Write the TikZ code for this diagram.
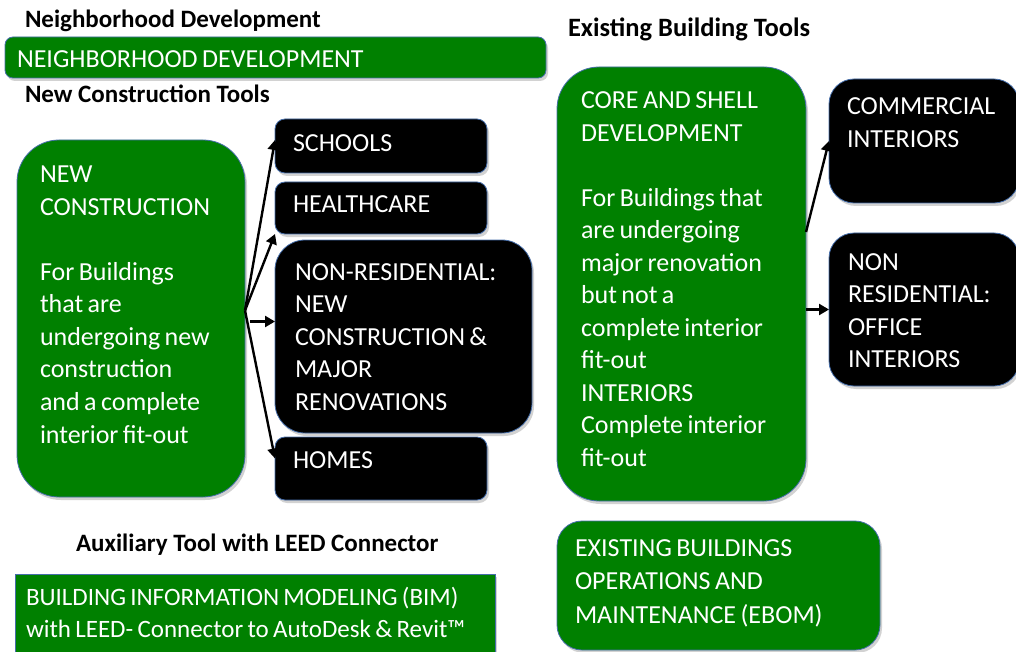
\documentclass[tikz,border=0pt]{standalone}
\usepackage{fontspec}
\setmainfont{Carlito}
\usetikzlibrary{shadows,arrows.meta}
\definecolor{leedgreen}{RGB}{0,128,0}
\definecolor{edgeblue}{RGB}{70,110,170}

\begin{document}
\begin{tikzpicture}
  [x=1pt, y=-1pt,
   every node/.style={inner sep=0pt, outer sep=0pt},
   box/.style={draw=edgeblue, line width=0.8pt, anchor=north west,
     drop shadow={shadow xshift=2pt, shadow yshift=-3pt, fill=black!25, opacity=0.7}},
   gbox/.style={box, fill=leedgreen},
   bbox/.style={box, fill=black},
   txt/.style={text=white, align=left, text width=230pt, anchor=base west,
     font=\fontsize{26}{32.5}\selectfont, execute at begin node={\spaceskip=0.17em\relax}},
   hdr/.style={anchor=base west, font=\fontsize{25}{30}\selectfont\bfseries},
   arr/.style={-{Triangle[length=10pt,width=11pt]}, line width=2.4pt}]
  \useasboundingbox (0,0) rectangle (1016,652);

  % headings
  \node[hdr] (ndhead) at (25,28) {Neighborhood Development};
  \node[hdr] (nchead) at (25,103) {New Construction Tools};
  \node[hdr, font=\fontsize{26.5}{30}\selectfont\bfseries] (ebhead) at (568,37) {Existing Building Tools};
  \node[hdr] (auxhead) at (76,551) {Auxiliary Tool with LEED Connector};

  % boxes
  \node[gbox, rounded corners=8, minimum width=541, minimum height=41] (ndbar) at (5,37) {};
  \node[gbox, rounded corners=42, minimum width=228, minimum height=357] (nc) at (17,140) {};
  \node[bbox, rounded corners=10, minimum width=212, minimum height=54] (schools) at (275,119) {};
  \node[bbox, rounded corners=10, minimum width=212, minimum height=52] (health) at (275,182) {};
  \node[bbox, rounded corners=30, minimum width=257, minimum height=193] (nonres) at (275,240) {};
  \node[bbox, rounded corners=10, minimum width=212, minimum height=63] (homes) at (275,437) {};
  \node[gbox, rounded corners=42, minimum width=249, minimum height=434] (core) at (557,67) {};
  \node[bbox, rounded corners=25, minimum width=190, minimum height=124] (comm) at (829,79) {};
  \node[bbox, rounded corners=25, minimum width=190, minimum height=153] (office) at (829,233) {};
  \node[gbox, rounded corners=25, minimum width=323, minimum height=129] (ebom) at (557,521) {};
  \node[gbox, minimum width=480, minimum height=90] (bim) at (15,574) {};

  % texts
  \node[txt, text width=400pt] (ndtxt) at (17,68) {NEIGHBORHOOD DEVELOPMENT};
  \node[txt] (nctxt) at (40,183) {NEW\\CONSTRUCTION\\[32.5pt]For Buildings\\that are\\undergoing new\\construction\\and a complete\\interior fit-out};
  \node[txt] (schoolstxt) at (293,152) {SCHOOLS};
  \node[txt] (healthtxt) at (293,213) {HEALTHCARE};
  \node[txt] (nonrestxt) at (295,280) {NON-RESIDENTIAL:\\NEW\\CONSTRUCTION \&\\MAJOR\\RENOVATIONS};
  \node[txt] (homestxt) at (293,468) {HOMES};
  \node[txt] (coretxt) at (581,109) {CORE AND SHELL\\DEVELOPMENT\\[32.5pt]For Buildings that\\are undergoing\\major renovation\\but not a\\complete interior\\fit-out\\INTERIORS\\Complete interior\\fit-out};
  \node[txt, text width=165pt] (commtxt) at (847,115) {COMMERCIAL\\INTERIORS};
  \node[txt, text width=165pt] (officetxt) at (848,270) {NON\\RESIDENTIAL:\\OFFICE\\INTERIORS};
  \node[txt, text width=300pt, font=\fontsize{26}{33.5}\selectfont] (ebomtxt) at (575,556) {EXISTING BUILDINGS\\OPERATIONS AND\\MAINTENANCE (EBOM)};
  \node[txt, text width=465pt, font=\fontsize{25}{32}\selectfont] (bimtxt) at (26,605) {BUILDING INFORMATION MODELING (BIM)\\with LEED- Connector to AutoDesk \& Revit™};

  % arrows
  \coordinate (fork) at ([yshift=8pt]nc.east);
  \coordinate (fork2) at ([xshift=5pt,yshift=-3pt]nc.east);
  \draw[arr] (fork) -- ([yshift=6pt]schools.west);
  \draw[arr] (fork) -- (health.south west);
  \draw[arr] (fork2) -- (fork2 -| nonres.west);
  \draw[arr] (fork) -- ([yshift=10pt]homes.west);
  \draw[arr] ([yshift=52pt]core.east) -- (comm.west);
  \draw[arr] (core.east |- office.west) -- (office.west);
\end{tikzpicture}
\end{document}
